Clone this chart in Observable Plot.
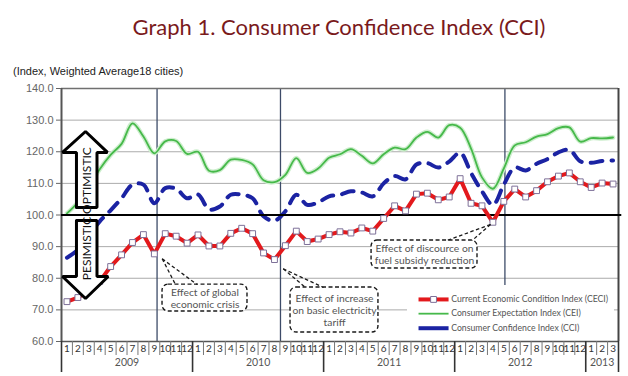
<!DOCTYPE html>
<html><head><meta charset="utf-8">
<script src="https://cdn.jsdelivr.net/npm/d3@7"></script>
<script src="https://cdn.jsdelivr.net/npm/@observablehq/plot@0.6"></script>
<style>
body{margin:0;background:#fff;width:628px;height:376px;overflow:hidden}
#title{height:58px;box-sizing:border-box;padding-top:14px;padding-left:50px;text-align:center;font-family:Lato,"Open Sans",sans-serif;font-size:22px;line-height:26px;color:#7a1a1c}
#subtitle{height:20px;box-sizing:border-box;padding-top:6px;padding-left:13px;font-family:"Liberation Sans",Arial,sans-serif;font-size:11px;line-height:14px;color:#222}
#chart svg{display:block}
</style></head><body>
<div id="title">Graph 1. Consumer Confidence Index (CCI)</div>
<div id="subtitle">(Index, Weighted Average18 cities)</div>
<div id="chart"></div>
<script>
// ---- data ----
const years = ["2009", "2010", "2011", "2012", "2013"];
const monthsInYear = [12, 12, 12, 12, 3];
const monthNames = ["1","2","3","4","5","6","7","8","9","10","11","12"];

// Current Economic Condition Index (CECI)
const ceci = [72.6, 73.9, 76.0, 79.0, 83.7, 87.4, 91.3, 93.8, 87.7, 94.1, 93.3, 91.1,
              93.7, 90.2, 90.2, 94.2, 95.8, 94.1, 88.0, 85.9, 90.3, 94.9, 91.6, 92.4,
              93.8, 94.7, 94.3, 95.9, 94.9, 98.9, 102.9, 101.3, 106.6, 106.9, 104.8, 105.7,
              111.5, 103.7, 102.9, 97.7, 104.3, 108.2, 105.7, 107.7, 110.5, 112.3, 113.3, 110.5,
              108.7, 110.1, 109.8];
// Consumer Expectation Index (CEI)
const cei = [100.5, 104.0, 109.0, 114.5, 119.0, 122.5, 129.0, 124.8, 119.5, 123.3, 123.4, 119.3,
             120.0, 114.0, 114.2, 117.5, 117.4, 116.0, 111.0, 110.4, 112.7, 118.0, 113.3, 114.7,
             118.1, 119.2, 120.8, 118.7, 116.3, 119.2, 121.3, 120.8, 124.5, 126.3, 124.5, 128.4,
             127.6, 121.0, 111.9, 108.3, 114.7, 122.0, 123.0, 124.8, 125.6, 127.5, 127.7, 123.2,
             124.3, 124.2, 124.5];
// Consumer Confidence Index (CCI)
const cci = [86.5, 89.0, 93.5, 98.0, 101.5, 105.3, 109.6, 109.6, 103.7, 108.5, 108.3, 105.3,
             106.5, 101.8, 102.7, 106.4, 106.4, 105.3, 99.6, 98.2, 101.2, 106.4, 103.2, 104.0,
             105.9, 106.4, 107.5, 107.1, 105.9, 110.0, 112.3, 111.3, 116.0, 116.4, 115.0, 116.9,
             119.7, 113.3, 107.5, 103.2, 109.6, 115.0, 114.1, 116.2, 117.7, 119.8, 120.6, 117.0,
             116.5, 117.1, 117.2];

const yTicks = [60, 70, 80, 90, 100, 110, 120, 130, 140];
const gridValues = [70, 80, 90, 110, 120, 130];

// ---- derived structures ----
const periods = [];
const yearCenters = [];
const yearBounds = [-0.5];
years.forEach((y, k) => {
  const start = periods.length;
  for (let m = 0; m < monthsInYear[k]; m++) periods.push({i: periods.length, year: y, month: monthNames[m]});
  yearCenters.push({pos: start + (monthsInYear[k] - 1) / 2, label: y});
  yearBounds.push(periods.length - 0.5);
});
const data = periods.map((p, i) => ({i, ceci: ceci[i], cei: cei[i], cci: cci[i]}));
const monthIdx = periods.map(p => p.i);
const monthSeps = monthIdx.slice(0, -1).map(i => i + 0.5);

// ---- annotation layout (month-index / index-value units) ----
const events = [{x: 8.25, y1: 60, y2: 140}, {x: 19.55, y1: 60, y2: 140}, {x: 40.1, y1: 77.7, y2: 140}];
const callouts = [
  {text: "Effect of global\neconomic crisis", x1: 8.75, x2: 16.53, y1: 69.5, y2: 78.0, tx: 12.64, ty: 73.8,
   px: 8.72, py: 86.15, ex: [9.94, 11.92], ey: 78.0},
  {text: "Effect of increase\non basic electricity\ntariff", x1: 20.47, x2: 28.52, y1: 62.85, y2: 77.07, tx: 24.5, ty: 69.8,
   px: 19.8, py: 83.0, ex: [21.84, 23.49], ey: 77.07},
  {text: "Effect of discource on\nfuel subsidy reduction", x1: 27.89, x2: 37.59, y1: 83.08, y2: 91.94, tx: 32.74, ty: 87.5,
   px: 38.78, py: 97.0, ex: [34.8, 37.1], ey: 91.94}
];
const pointerLinks = callouts.flatMap(c => c.ex.map(x => ({x1: c.px, y1: c.py, x2: x, y2: c.ey})));
// block arrows: shaft [s0,s1], head [h0,h1], tip at tx; tail, base and tip levels
const arrowSpecs = [
  {s0: 0.87, s1: 2.75, h0: -0.41, h1: 3.71, tx: 1.70, tail: 102.4, base: 119.8, tip: 126.4, label: "OPTIMISTIC", ly: 110.9},
  {s0: 0.87, s1: 2.75, h0: -0.41, h1: 3.78, tx: 1.70, tail: 98.26, base: 80.55, tip: 73.6, label: "PESIMISTIC", ly: 89.4}
];
function arrowOutline(a) {
  return [[a.s0, a.tail], [a.s0, a.base], [a.h0, a.base], [a.tx, a.tip], [a.h1, a.base],
          [a.s1, a.base], [a.s1, a.tail], [a.s0, a.tail]].map(([x, y]) => ({x, y, label: a.label}));
}
function arrowFill(a) {
  const head = x => x <= a.tx ? a.base + (a.tip - a.base) * (x - a.h0) / (a.tx - a.h0)
                              : a.base + (a.tip - a.base) * (a.h1 - x) / (a.h1 - a.tx);
  const rows = [[a.h0, a.base, a.base], [a.s0, a.base, head(a.s0)], [a.s0, a.tail, head(a.s0)],
                [a.tx, a.tail, a.tip], [a.s1, a.tail, head(a.s1)], [a.s1, a.base, head(a.s1)], [a.h1, a.base, a.base]];
  return rows.map(([x, u, v]) => ({x, y1: u, y2: v, label: a.label}));
}
const arrowOutlines = arrowSpecs.flatMap(arrowOutline);
const arrowFills = arrowSpecs.flatMap(arrowFill);

const legendItems = [
  {label: "Current Economic Condition Index (CECI)", y: 73.3, key: "ceci"},
  {label: "Consumer Expectation Index (CEI)", y: 68.8, key: "cei"},
  {label: "Consumer Confidence Index (CCI)", y: 64.2, key: "cci"}
];
const legendBox = [{x1: 31.18, x2: 50.13, y1: 60.9, y2: 77.7}];
const legX1 = 32.19, legX2 = 34.94, legTx = 35.18;

const RED = "#e3191c", GREEN = "#46b94a", BLUE = "#1b23a3", SQ = "#7e7199";
const F = "Lato, 'Open Sans', sans-serif";

const chart = Plot.plot({
  width: 628, height: 298,
  marginTop: 10, marginBottom: 35, marginLeft: 61, marginRight: 10,
  x: {domain: [-0.5, 50.5], label: null},
  y: {domain: [60, 140], label: null},
  style: {fontFamily: "'Liberation Sans', Arial, sans-serif", background: "white", overflow: "visible"},
  marks: [
    Plot.ruleY(gridValues, {stroke: "#ababab", strokeWidth: 1}),
    Plot.rect(legendBox, {x1: "x1", x2: "x2", y1: "y1", y2: "y2", fill: "white"}),
    Plot.rect(callouts, {x1: "x1", x2: "x2", y1: "y1", y2: "y2", fill: "white", stroke: "#1a1a1a",
      strokeWidth: 1.4, strokeDasharray: "4,2.5", rx: 6}),
    Plot.ruleX(events, {x: "x", y1: "y1", y2: "y2", stroke: "#3d4b68", strokeWidth: 1.3}),
    // frame
    Plot.ruleY([140], {stroke: "#707070", strokeWidth: 1.3}),
    Plot.ruleY([60], {stroke: "#555", strokeWidth: 1.3}),
    Plot.ruleX([50.5], {y1: 60, y2: 140, stroke: "#444", strokeWidth: 2}),
    Plot.ruleX([-0.5], {y1: 60, y2: 140, stroke: "#555", strokeWidth: 2}),
    // axes
    Plot.axisY(yTicks, {tickSize: 5, tickPadding: 3, tickFormat: d3.format(".1f"), fontSize: 11, color: "#666", label: null}),
    Plot.axisX(monthSeps, {tickSize: 14, tickFormat: () => "", stroke: "#777", label: null}),
    Plot.axisX(yearBounds, {tickSize: 31, tickFormat: () => "", stroke: "#333", strokeWidth: 1.6, label: null}),
    Plot.axisX(monthIdx, {tickSize: 0, tickPadding: 3, tickFormat: i => periods[i].month, fontSize: 10,
      fontFamily: F, fill: "#333", label: null}),
    Plot.axisX(yearCenters.map(d => d.pos), {tickSize: 0, tickPadding: 17,
      tickFormat: p => yearCenters.find(d => d.pos === p).label, fontSize: 10.5, fontFamily: F, fill: "#555", label: null}),
    // series
    Plot.line(data, {x: "i", y: "cei", stroke: "#cdeecd", strokeWidth: 4.5, curve: "catmull-rom"}),
    Plot.line(data, {x: "i", y: "cei", stroke: GREEN, strokeWidth: 1.8, curve: "catmull-rom"}),
    Plot.line(data, {x: "i", y: "cci", stroke: BLUE, strokeWidth: 4, strokeDasharray: "12,9", curve: "catmull-rom"}),
    Plot.ruleY([100], {x1: -0.5, x2: 50.8, stroke: "black", strokeWidth: 2}),
    Plot.line(data, {x: "i", y: "ceci", stroke: RED, strokeWidth: 4}),
    Plot.dot(data, {x: "i", y: "ceci", symbol: "square", r: 3.3, fill: "white", stroke: SQ, strokeWidth: 1}),
    // optimism / pessimism block arrows
    Plot.areaY(arrowFills, {x: "x", y1: "y1", y2: "y2", z: "label", fill: "white", curve: "linear"}),
    Plot.line(arrowOutlines, {x: "x", y: "y", z: "label", stroke: "black", strokeWidth: 3, strokeLinejoin: "miter"}),
    Plot.text(arrowSpecs, {x: d => (d.s0 + d.s1) / 2, y: "ly", text: "label", rotate: -90, fontSize: 12, fontFamily: F, fill: "#111"}),
    // callouts
    Plot.link(pointerLinks, {x1: "x1", y1: "y1", x2: "x2", y2: "y2", stroke: "#1a1a1a", strokeWidth: 1.3, strokeDasharray: "3.5,2.5"}),
    Plot.text(callouts, {x: "tx", y: "ty", text: "text", fontSize: 10.3, lineHeight: 1.17, fontFamily: F, fill: "#555"}),
    // legend
    Plot.link(legendItems, {x1: legX1, x2: legX2, y1: "y", y2: "y",
      stroke: d => ({ceci: RED, cei: GREEN, cci: BLUE})[d.key],
      strokeWidth: d => ({ceci: 4, cei: 1.8, cci: 4})[d.key],
      strokeDasharray: d => d.key === "cci" ? "13,9" : null}),
    Plot.dot(legendItems.filter(d => d.key === "ceci"), {x: (legX1 + legX2) / 2, y: "y", symbol: "square", r: 3.3,
      fill: "white", stroke: SQ, strokeWidth: 1}),
    Plot.text(legendItems, {x: legTx, y: "y", text: "label", textAnchor: "start", fontSize: 8.7, fontFamily: F, fill: "#555"})
  ]
});
document.getElementById("chart").appendChild(chart);
</script>
</body></html>
